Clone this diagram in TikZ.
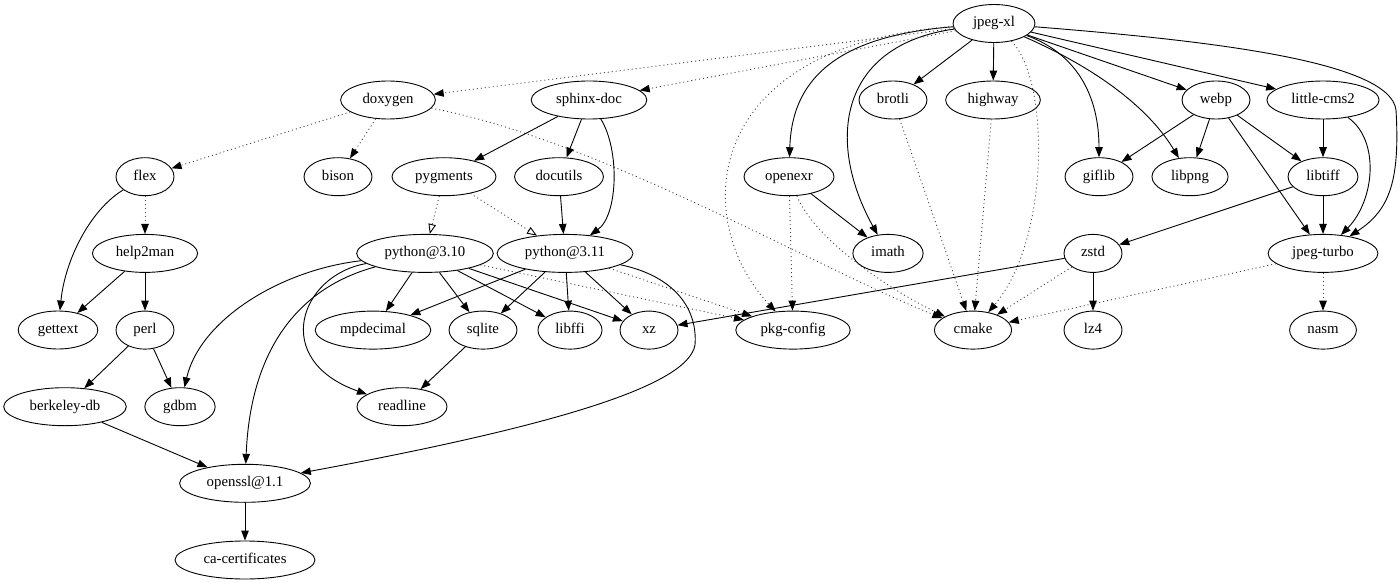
\documentclass[tikz,border=0pt]{standalone}
\usepackage{fontspec}
\setmainfont{Liberation Serif}
\usetikzlibrary{shapes.geometric}
\usetikzlibrary{positioning}
\usetikzlibrary{arrows.meta}
\tikzset{every picture/.style={line width=0.9pt}}
\begin{document}
\begin{tikzpicture}[x=1pt,y=-1pt,node distance=76.7pt,pk/.style={draw,ellipse,inner xsep=8pt,inner ysep=1pt,minimum width=58pt,minimum height=38pt,text height=10pt,text depth=3pt,font=\fontsize{14.8}{17}\selectfont},rd/.style={-{Triangle[length=10pt,width=7.5pt]}},bd/.style={draw=black!75,dash pattern=on 1pt off 3pt,-{Triangle[length=10pt,width=7.5pt,color=black]}},od/.style={draw=black!75,dash pattern=on 1pt off 3pt,-{Triangle[open,length=10pt,width=7.5pt,color=black]}}]
\useasboundingbox (0,0) rectangle (1400,583);
\node (jxl) [pk] at (994,23.5) {jpeg-xl};
\node (dox) [pk] at (388,100) {doxygen};
\node (sph) [pk,right of=dox,node distance=201pt] {sphinx-doc};
\node (bro) [pk,right of=sph,node distance=304pt] {brotli};
\node (hwy) [pk,right of=bro,node distance=100pt] {highway};
\node (webp) [pk,right of=hwy,node distance=223pt] {webp};
\node (lcms) [pk,right of=webp,node distance=107pt] {little-cms2};
\node (flex) [pk] at (145,176.7) {flex};
\node (bison) [pk,right of=flex,node distance=193pt] {bison};
\node (pyg) [pk,right of=bison,node distance=106pt] {pygments};
\node (docu) [pk,right of=pyg,node distance=115pt] {docutils};
\node (exr) [pk,right of=docu,node distance=230pt] {openexr};
\node (gif) [pk,right of=exr,node distance=310pt] {giflib};
\node (png) [pk,right of=gif,node distance=91pt] {libpng};
\node (tiff) [pk,below of=lcms] {libtiff};
\node (h2m) [pk,below of=flex] {help2man};
\node (py10) [pk,right of=h2m,node distance=280pt] {python@3.10};
\node (py11) [pk,right of=py10,node distance=140pt] {python@3.11};
\node (imath) [pk,right of=py11,node distance=323pt] {imath};
\node (zstd) [pk,right of=imath,node distance=205pt] {zstd};
\node (jt) [pk,below of=tiff] {jpeg-turbo};
\node (gtx) [pk] at (58,330) {gettext};
\node (perl) [pk,below of=h2m] {perl};
\node (mpd) [pk,right of=perl,node distance=228pt] {mpdecimal};
\node (sql) [pk,right of=mpd,node distance=110pt] {sqlite};
\node (ffi) [pk,right of=sql,node distance=87pt] {libffi};
\node (xz) [pk,right of=ffi,node distance=79pt] {xz};
\node (pkgc) [pk,right of=xz,node distance=144pt] {pkg-config};
\node (cmake) [pk,right of=pkgc,node distance=180pt] {cmake};
\node (lz4) [pk,below of=zstd] {lz4};
\node (nasm) [pk,below of=jt] {nasm};
\node (bdb) [pk] at (65,406.7) {berkeley-db};
\node (gdbm) [pk,right of=bdb,node distance=115pt] {gdbm};
\node (rl) [pk,right of=gdbm,node distance=222pt] {readline};
\node (ssl) [pk] at (245,483.3) {openssl@1.1};
\node (ca) [pk,below of=ssl] {ca-certificates};
\draw[rd] (jxl) -- (bro);
\draw[rd] (jxl) -- (hwy);
\draw[rd] (jxl) .. controls (850,35) and (792,70) .. (exr);
\draw[rd] (jxl) .. controls (840,45) and (825,140) .. (imath);
\draw[rd] (jxl) .. controls (1080,55) and (1099,100) .. (gif);
\draw[rd] (jxl) .. controls (1100,70) and (1150,110) .. (png);
\draw[rd] (jxl) -- (webp);
\draw[rd] (jxl) -- (lcms);
\draw[rd] (jxl) .. controls (1200,40) and (1390,60) .. (1396,110) .. controls (1400,180) and (1390,210) .. (jt);
\draw[bd] (jxl) -- (dox);
\draw[bd] (jxl) -- (sph);
\draw[bd] (jxl) .. controls (700,45) and (690,220) .. (pkgc);
\draw[bd] (jxl) .. controls (1050,80) and (1050,240) .. (cmake);
\draw[bd] (dox) -- (flex);
\draw[bd] (dox) -- (bison);
\draw[bd] (dox) .. controls (600,140) and (820,270) .. (cmake);
\draw[rd] (sph) -- (pyg);
\draw[rd] (sph) -- (docu);
\draw[rd] (sph) .. controls (620,150) and (618,215) .. (py11);
\draw[rd] (docu) -- (py11);
\draw[od] (pyg) -- (py10);
\draw[od] (pyg) -- (py11);
\draw[rd] (flex) .. controls (90,210) and (65,260) .. (gtx);
\draw[bd] (flex) -- (h2m);
\draw[rd] (h2m) -- (gtx);
\draw[rd] (h2m) -- (perl);
\draw[rd] (perl) -- (bdb);
\draw[rd] (perl) -- (gdbm);
\draw[rd] (bdb) -- (ssl);
\draw[rd] (ssl) -- (ca);
\draw[rd] (py10) -- (mpd);
\draw[rd] (py10) -- (sql);
\draw[rd] (py10) -- (ffi);
\draw[rd] (py10) -- (xz);
\draw[bd] (py10) -- (pkgc);
\draw[rd] (py10) .. controls (280,270) and (200,320) .. (gdbm);
\draw[rd] (py10) .. controls (290,290) and (250,360) .. (ssl);
\draw[rd] (py10) .. controls (300,275) and (270,360) .. (rl);
\draw[rd] (py11) -- (mpd);
\draw[rd] (py11) -- (sql);
\draw[rd] (py11) -- (ffi);
\draw[rd] (py11) -- (xz);
\draw[bd] (py11) -- (pkgc);
\draw[rd] (py11) .. controls (670,275) and (698,305) .. (695,345) .. controls (688,385) and (560,425) .. (ssl);
\draw[rd] (sql) -- (rl);
\draw[rd] (exr) -- (imath);
\draw[bd] (exr) -- (pkgc);
\draw[bd] (exr) .. controls (815,240) and (890,290) .. (cmake);
\draw[bd] (bro) -- (cmake);
\draw[bd] (hwy) -- (cmake);
\draw[rd] (webp) -- (gif);
\draw[rd] (webp) -- (png);
\draw[rd] (webp) -- (tiff);
\draw[rd] (webp) -- (jt);
\draw[rd] (lcms) -- (tiff);
\draw[rd] (lcms) .. controls (1380,140) and (1375,200) .. (jt);
\draw[rd] (tiff) -- (zstd);
\draw[rd] (tiff) -- (jt);
\draw[rd] (zstd) -- (xz);
\draw[rd] (zstd) -- (lz4);
\draw[bd] (zstd) -- (cmake);
\draw[bd] (jt) -- (nasm);
\draw[bd] (jt) -- (cmake);
\end{tikzpicture}
\end{document}
